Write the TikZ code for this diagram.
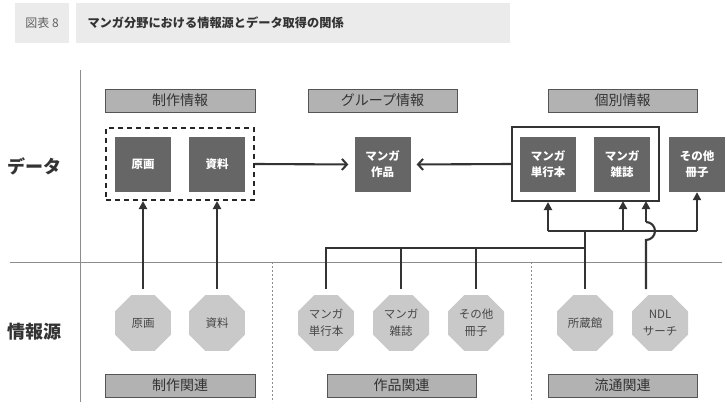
\documentclass[tikz,border=0pt]{standalone}
\usepackage{fontspec}
\setmainfont{Noto Sans CJK JP}
\usetikzlibrary{shapes.geometric,arrows.meta}
\definecolor{tbar}{HTML}{EBEBEB}
\definecolor{hbar}{HTML}{B2B2B2}
\definecolor{hborder}{HTML}{555555}
\definecolor{dfill}{HTML}{666666}
\definecolor{ofill}{HTML}{C9C9C9}
\definecolor{ink}{HTML}{333333}
\definecolor{axis}{HTML}{8C8C8C}
\begin{document}
\begin{tikzpicture}[x=1pt,y=-1pt,
  titlebox/.style={fill=tbar,draw=none,inner sep=0pt},
  hdr/.style={fill=hbar,draw=hborder,line width=0.8pt,minimum width=149pt,minimum height=23pt,inner sep=0pt,text=ink,font=\fontsize{14}{16}\selectfont},
  dbox/.style={fill=dfill,draw=none,minimum width=56pt,minimum height=55pt,inner sep=0pt,text=white,align=center,font=\bfseries\fontsize{11.5}{16}\selectfont},
  oct/.style={regular polygon,regular polygon sides=8,fill=ofill,draw=none,minimum size=60.6pt,inner sep=0pt,text=black!72,align=center,font=\fontsize{11.5}{17}\selectfont},
  sidelab/.style={font=\bfseries\fontsize{18}{20}\selectfont,text=ink},
  conn/.style={draw=ink,line width=2.1pt},
  arr/.style={conn,-{Triangle[length=8pt,width=8pt]}},
  oarr/.style={conn,-{Straight Barb[length=5pt,width=11pt,line width=2pt]},shorten >=6pt},
  groupbox/.style={draw=ink,line width=2.1pt,minimum width=147pt,minimum height=74pt,inner sep=0pt},
  dashbox/.style={draw=black!85,line width=2pt,dash pattern=on 5pt off 4pt,minimum width=148pt,minimum height=72pt,inner sep=0pt},
  sep/.style={draw=axis,line width=0.8pt,dash pattern=on 2pt off 2pt}
]
\useasboundingbox (0,0) rectangle (727,409);
% title
\node[titlebox,minimum width=54pt,minimum height=40pt] (tl) at (42,23) {};
\node[titlebox,minimum width=434pt,minimum height=40pt] (tr) at (293,23) {};
\node[text=black!62,font=\fontsize{12}{14}\selectfont] (tn) at (42,23) {図表 8};
\node[anchor=west,text=ink,font=\bfseries\fontsize{12.2}{14}\selectfont] (tt) at (84,23) {マンガ分野における情報源とデータ取得の関係};
% axes
\coordinate (va) at (80,70);
\coordinate (vb) at (80,402);
\coordinate (ha) at (10,262);
\coordinate (hb) at (722,262);
\draw[axis,line width=0.9pt] (va) -- (vb);
\draw[axis,line width=0.9pt] (ha) -- (hb);
\coordinate (s1a) at (272,262); \coordinate (s1b) at (272,402);
\coordinate (s2a) at (531,262); \coordinate (s2b) at (531,402);
\draw[sep] (s1a) -- (s1b);
\draw[sep] (s2a) -- (s2b);
% side labels
\node[sidelab] (ldata) at (34,166) {データ};
\node[sidelab] (lsrc) at (34,332) {情報源};
% header bars
\node[hdr,minimum width=150pt] (h1) at (180,100.5) {制作情報};
\node[hdr] (h2) at (382.5,100.5) {グループ情報};
\node[hdr] (h3) at (622.5,100.5) {個別情報};
\node[hdr,minimum width=150pt] (b1) at (180,385.5) {制作関連};
\node[hdr] (b2) at (401.5,385.5) {作品関連};
\node[hdr] (b3) at (622.5,385.5) {流通関連};
% group boxes
\node[dashbox] (g1) at (180,164) {};
\node[groupbox] (g2) at (585.5,164) {};
% data boxes
\node[dbox] (d1) at (143,164.5) {原画};
\node[dbox] (d2) at (217,164.5) {資料};
\node[dbox] (d3) at (382.5,164.5) {マンガ\\作品};
\node[dbox] (d4) at (548,164.5) {マンガ\\単行本};
\node[dbox] (d5) at (622,164.5) {マンガ\\雑誌};
\node[dbox] (d6) at (697,164.5) {その他\\冊子};
% octagons
\node[oct] (o1) at (143,323) {原画};
\node[oct] (o2) at (217,323) {資料};
\node[oct] (o3) at (326,323) {マンガ\\単行本};
\node[oct] (o4) at (401,323) {マンガ\\雑誌};
\node[oct] (o5) at (476,323) {その他\\冊子};
\node[oct] (o6) at (585,323) {所蔵館};
\node[oct] (o7) at (660,323) {NDL\\サーチ};
% group arrows
\draw[oarr] (g1.east) -- (d3.west);
\draw[oarr] (g2.west) -- (d3.east);
% production arrows
\draw[arr,shorten <=6pt] (o1.north) -- (o1.north |- g1.south);
\draw[arr,shorten <=6pt] (o2.north) -- (o2.north |- g1.south);
% works bus
\coordinate (j1) at (585,248);
\coordinate (tb1) at (548,231);
\coordinate (tb2) at (697,231);
\draw[conn,shorten <=6pt] (o3.north) |- (j1);
\draw[conn,shorten <=6pt] (o4.north) -- (o4.north |- j1);
\draw[conn,shorten <=6pt] (o5.north) -- (o5.north |- j1);
\draw[conn,shorten <=6pt] (o6.north) -- (o6.north |- tb1);
\draw[conn] (tb1) -- (tb2);
\draw[arr] (tb1) -- (tb1 |- g2.south);
\draw[arr] (623,231) -- (623,201);
\draw[arr] (tb2) -- (tb2 |- d6.south);
% NDL line with hop
\coordinate (n0) at (646,289);
\coordinate (n1) at (646,240);
\coordinate (n2) at (646,222);
\coordinate (n3) at (646,201);
\draw[conn] (n0) -- (n1) arc[start angle=90,end angle=-90,radius=9] -- (n2);
\draw[arr] (n2) -- (n3);
\end{tikzpicture}
\end{document}
